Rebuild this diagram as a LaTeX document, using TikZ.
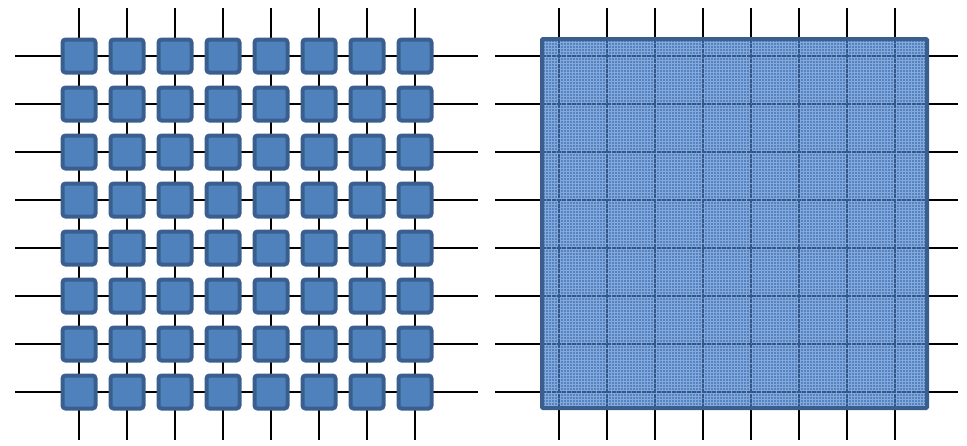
\documentclass[tikz,border=0pt]{standalone}
\definecolor{cellfill}{HTML}{4F81BD}
\definecolor{cellborder}{HTML}{3A5F8E}
\definecolor{texfill}{HTML}{5283C2}
\definecolor{texline}{HTML}{86A9DA}
\definecolor{innerline}{HTML}{34578A}
\begin{document}
\begin{tikzpicture}[x=1pt,y=-1pt,
  wire/.style={black,line width=2pt},
  cell/.style={draw=cellborder,fill=cellfill,line width=4pt,rounded corners=3pt,minimum size=33pt,inner sep=0pt},
  bigcell/.style={fill=texfill,minimum width=385pt,minimum height=369pt,inner sep=0pt,outer sep=0pt},
  texture/.style={texline,line width=0.8pt},
  inner/.style={innerline,line width=2pt,dash pattern=on 4pt off 1pt},
  bigborder/.style={draw=cellborder,line width=4pt,rounded corners=1pt}]
\useasboundingbox (0,0) rectangle (967,445);
% left: wires
\foreach \i in {0,...,7}{
  \pgfmathsetmacro\yy{56+48*\i}
  \pgfmathsetmacro\xx{79+48*\i}
  \coordinate (lw\i) at (15,\yy);
  \coordinate (le\i) at (478,\yy);
  \coordinate (lt\i) at (\xx,8);
  \coordinate (lb\i) at (\xx,440);
  \draw[wire] (lw\i) -- (le\i);
  \draw[wire] (lt\i) -- (lb\i);
}
% left: cells
\foreach \i in {0,...,7}{
  \foreach \j in {0,...,7}{
    \node[cell] (s\i\j) at ({79+48*\i},{56+48*\j}) {};
  }
}
% right: wires
\foreach \i in {0,...,7}{
  \pgfmathsetmacro\yy{56+48*\i}
  \pgfmathsetmacro\xx{559+48*\i}
  \coordinate (rw\i) at (495,\yy);
  \coordinate (re\i) at (958,\yy);
  \coordinate (rt\i) at (\xx,8);
  \coordinate (rb\i) at (\xx,440);
  \draw[wire] (rw\i) -- (re\i);
  \draw[wire] (rt\i) -- (rb\i);
}
% right: big cell
\node[bigcell] (big) at (734.5,223.5) {};
\begin{scope}
  \clip (big.north west) rectangle (big.south east);
  \foreach \k in {0,...,129}{
    \draw[texture] ({542+3*\k},39) -- ({542+3*\k},408);
  }
  \foreach \k in {0,...,123}{
    \draw[texture] (542,{39+3*\k}) -- (927,{39+3*\k});
  }
  \foreach \i in {0,...,7}{
    \draw[inner] (rt\i |- big.north) -- (rb\i |- big.south);
    \draw[inner] (rw\i -| big.west) -- (re\i -| big.east);
  }
\end{scope}
\draw[bigborder] (big.north west) rectangle (big.south east);
\end{tikzpicture}
\end{document}
